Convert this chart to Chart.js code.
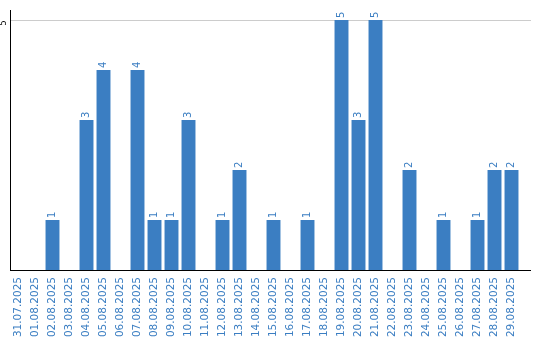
<!DOCTYPE html>
<html>
<head>
<meta charset="utf-8">
<script src="https://cdn.jsdelivr.net/npm/chart.js@4.4.1/dist/chart.umd.min.js"></script>
<style>
  html, body { margin: 0; padding: 0; background: #fff; }
  #wrap { width: 540px; height: 340px; position: relative; }
</style>
</head>
<body>
<div id="wrap"><canvas id="barChart"></canvas></div>
<script>
// dates and counts
const dates = [
    '31.07.2025', '01.08.2025', '02.08.2025', '03.08.2025', '04.08.2025',
    '05.08.2025', '06.08.2025', '07.08.2025', '08.08.2025', '09.08.2025',
    '10.08.2025', '11.08.2025', '12.08.2025', '13.08.2025', '14.08.2025',
    '15.08.2025', '16.08.2025', '17.08.2025', '18.08.2025', '19.08.2025',
    '20.08.2025', '21.08.2025', '22.08.2025', '23.08.2025', '24.08.2025',
    '25.08.2025', '26.08.2025', '27.08.2025', '28.08.2025', '29.08.2025'
];
const counts = [0, 0, 1, 0, 3, 4, 0, 4, 1, 1, 3, 0, 1, 2, 0, 1, 0, 1, 0, 5, 3, 5, 0, 2, 0, 1, 0, 1, 2, 2];
const yTickLabels = [5];

const barBlue = '#3b7ec2';
const fontFamily = '"DejaVu Sans", Verdana, sans-serif';
const axisOverhang = 11; // axis + gridline run a bit past the last bar

// gridline at the labelled tick, bottom axis extension
const extraLines = {
    id: 'extraLines',
    beforeDatasetsDraw(chart) {
        const { ctx, chartArea } = chart;
        const yScale = chart.scales.y;
        ctx.save();
        ctx.lineWidth = 1;
        ctx.strokeStyle = '#cccccc';
        yTickLabels.forEach(v => {
            const y = Math.round(yScale.getPixelForValue(v)) + 0.5;
            ctx.beginPath();
            ctx.moveTo(chartArea.left + 1, y);
            ctx.lineTo(chartArea.right + axisOverhang, y);
            ctx.stroke();
        });
        ctx.strokeStyle = '#000';
        const yb = Math.round(chartArea.bottom) + 0.5;
        ctx.beginPath();
        ctx.moveTo(chartArea.right, yb);
        ctx.lineTo(chartArea.right + axisOverhang, yb);
        ctx.stroke();
        ctx.restore();
    }
};

// value labels above bars + rotated y tick label
const rotatedText = {
    id: 'rotatedText',
    afterDatasetsDraw(chart) {
        const ctx = chart.ctx;
        const meta = chart.getDatasetMeta(0);
        ctx.save();
        ctx.font = '10px ' + fontFamily;
        ctx.fillStyle = barBlue;
        ctx.textAlign = 'left';
        ctx.textBaseline = 'middle';
        meta.data.forEach((bar, i) => {
            if (!counts[i]) return;
            ctx.save();
            ctx.translate(bar.x, bar.y - 2);
            ctx.rotate(-Math.PI / 2);
            ctx.fillText(String(counts[i]), 0, 0);
            ctx.restore();
        });

        const yScale = chart.scales.y;
        ctx.fillStyle = '#000';
        ctx.font = '8px ' + fontFamily;
        ctx.textAlign = 'center';
        yTickLabels.forEach(v => {
            ctx.save();
            ctx.translate(4, yScale.getPixelForValue(v) + 3);
            ctx.rotate(-Math.PI / 2);
            ctx.fillText(String(v), 0, 0);
            ctx.restore();
        });
        ctx.restore();
    }
};

new Chart(document.getElementById('barChart'), {
    type: 'bar',
    data: {
        labels: dates,
        datasets: [{
            data: counts,
            backgroundColor: barBlue,
            barPercentage: 0.82,
            categoryPercentage: 1.0
        }]
    },
    options: {
        responsive: true,
        maintainAspectRatio: false,
        animation: false,
        layout: { padding: { top: 10, right: 20, left: 0, bottom: 0 } },
        plugins: {
            legend: { display: false },
            tooltip: { enabled: false }
        },
        scales: {
            x: {
                grid: { display: false, drawTicks: false },
                border: { color: '#000', width: 1 },
                ticks: {
                    color: barBlue,
                    font: { family: fontFamily, size: 10.5 },
                    minRotation: 90,
                    maxRotation: 90,
                    autoSkip: false,
                    padding: 7
                },
                afterFit(scale) { scale.height = 70; }
            },
            y: {
                min: 0,
                max: 5.2,
                ticks: { stepSize: 1, display: false },
                grid: { display: false, drawTicks: false },
                border: { color: '#000', width: 1 },
                afterFit(scale) { scale.width = 10; }
            }
        }
    },
    plugins: [extraLines, rotatedText]
});
</script>
</body>
</html>
